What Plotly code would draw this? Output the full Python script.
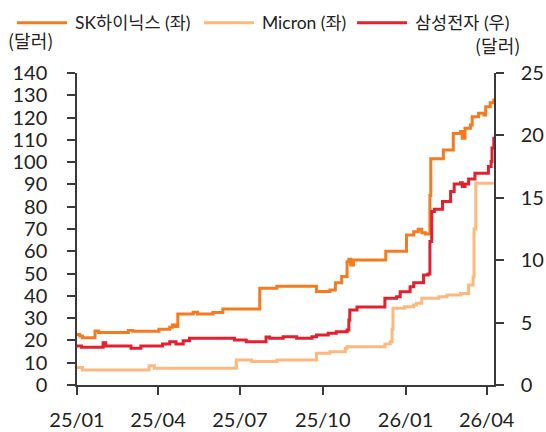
import plotly.graph_objects as go

# ---- data ----
sk_dates = ["2025-01-01","2025-01-04","2025-01-07","2025-01-21","2025-01-25","2025-02-27","2025-03-04",
            "2025-04-02","2025-04-14","2025-04-17","2025-04-20","2025-04-23","2025-05-10","2025-05-15",
            "2025-06-01","2025-06-12","2025-07-23","2025-08-11","2025-09-24","2025-10-09","2025-10-15",
            "2025-10-22","2025-10-28","2025-10-30","2025-11-01","2025-11-04","2025-12-10","2026-01-02",
            "2026-01-10","2026-01-15","2026-01-19","2026-01-23","2026-01-28","2026-01-29","2026-02-12",
            "2026-02-23","2026-03-03","2026-03-05","2026-03-08","2026-03-14","2026-03-16","2026-03-23",
            "2026-03-29","2026-03-31","2026-04-05","2026-04-09"]
sk_vals = [22.7,22.0,21.2,24.2,23.6,24.4,24.1,25.0,25.9,26.9,26.2,31.9,32.6,31.9,32.5,34.1,43.4,44.3,
           41.9,42.6,45.9,48.7,55.3,56.4,53.8,56.1,60.0,67.3,68.8,69.9,68.3,67.8,85.0,101.5,105.4,
           112.9,113.7,110.7,115.2,116.7,120.4,121.9,121.2,124.9,126.7,128.6]

mu_dates = ["2025-01-01","2025-01-07","2025-03-22","2025-03-28","2025-06-27","2025-07-14","2025-08-11",
            "2025-09-24","2025-10-09","2025-10-26","2025-10-28","2025-12-09","2025-12-15","2025-12-17",
            "2025-12-18","2025-12-31","2026-01-10","2026-01-13","2026-01-19","2026-02-07","2026-02-16",
            "2026-03-03","2026-03-12","2026-03-17","2026-03-18","2026-03-20","2026-04-09"]
mu_vals = [7.9,6.7,8.6,7.5,11.2,10.5,11.2,14.2,14.9,16.5,17.2,18.4,19.4,25.0,34.4,35.1,35.9,36.7,
           38.9,39.6,40.4,41.1,44.9,48.6,70.0,90.5,90.5]

sam_dates = ["2025-01-01","2025-01-06","2025-01-30","2025-02-02","2025-03-02","2025-03-13","2025-04-06",
             "2025-04-14","2025-04-21","2025-04-29","2025-05-06","2025-06-25","2025-07-08","2025-07-30",
             "2025-08-03","2025-08-18","2025-09-02","2025-09-19","2025-09-24","2025-10-07","2025-10-16",
             "2025-10-28","2025-10-30","2025-10-31","2025-11-08","2025-12-09","2025-12-22","2025-12-26",
             "2026-01-06","2026-01-10","2026-01-21","2026-01-26","2026-01-28","2026-01-30","2026-02-02",
             "2026-02-11","2026-02-20","2026-02-24","2026-03-03","2026-03-05","2026-03-08","2026-03-12",
             "2026-03-19","2026-04-03","2026-04-06","2026-04-07","2026-04-09"]
sam_vals = [3.12,3.02,3.39,3.12,2.94,3.12,3.28,3.47,3.28,3.55,3.74,3.6,3.47,3.85,3.74,3.87,3.74,3.87,
            4.0,4.14,4.27,4.4,5.2,6.0,6.25,6.95,7.08,7.48,7.88,8.2,8.81,8.9,11.5,13.9,14.08,14.7,15.5,
            16.1,16.2,15.9,16.1,16.5,16.96,17.5,17.9,19.0,19.9]

x_tickvals = ["2025-01-01","2025-04-01","2025-07-01","2025-10-01","2026-01-01","2026-04-01"]
x_ticktext = ["25/01","25/04","25/07","25/10","26/01","26/04"]

series_names = ["SK하이닉스 (좌)", "Micron (좌)", "삼성전자 (우)"]
colors = ["#F47B20", "#FDB97D", "#E3202E"]

FONT = "Lato, Noto Sans CJK KR"
KFONT = "Noto Sans CJK KR"
AX = "#3a3a3a"
TXT = "#222222"

fig = go.Figure()
fig.add_trace(go.Scatter(x=mu_dates, y=mu_vals, name=series_names[1], mode="lines",
                         line=dict(color=colors[1], width=3, shape="hv"), yaxis="y"))
fig.add_trace(go.Scatter(x=sk_dates, y=sk_vals, name=series_names[0], mode="lines",
                         line=dict(color=colors[0], width=3, shape="hv"), yaxis="y"))
fig.add_trace(go.Scatter(x=sam_dates, y=sam_vals, name=series_names[2], mode="lines",
                         line=dict(color=colors[2], width=3, shape="hv"), yaxis="y2"))

axis_common = dict(
    showgrid=False, zeroline=False, automargin=False,
    showline=True, linecolor=AX, linewidth=1.5,
    ticks="outside", ticklen=8, tickwidth=1.5, tickcolor=AX,
    tickfont=dict(family=FONT, size=20, color=TXT),
)

fig.update_layout(
    width=546, height=432,
    margin=dict(l=77, r=52, t=73, b=47),
    paper_bgcolor="white", plot_bgcolor="white",
    showlegend=False,
    font=dict(family=FONT, size=20, color=TXT),
    xaxis=dict(
        type="date", range=["2025-01-01", "2026-04-09 05:00"],
        tickvals=x_tickvals, ticktext=x_ticktext,
        ticklabelstandoff=8, **axis_common,
    ),
    yaxis=dict(
        range=[0, 140], dtick=10, tick0=0,
        ticklabelstandoff=16, **axis_common,
    ),
    yaxis2=dict(
        range=[0, 25], dtick=5, tick0=0, overlaying="y", side="right",
        ticklabelstandoff=13, **axis_common,
    ),
)

# custom legend (lines + text)
leg_y = 1.161
leg_items = [(-0.1439, -0.0240, -0.0096), (0.3046, 0.4245, 0.4388), (0.6715, 0.7914, 0.8058)]
for i, (x0, x1, xt) in enumerate(leg_items):
    fig.add_shape(type="line", xref="paper", yref="paper", x0=x0, x1=x1, y0=leg_y, y1=leg_y,
                  line=dict(color=colors[i], width=3))
    fig.add_annotation(xref="paper", yref="paper", x=xt, y=leg_y, text=series_names[i],
                       showarrow=False, xanchor="left", yanchor="middle",
                       font=dict(family=FONT, size=17.5, color=TXT))

fig.add_annotation(xref="paper", yref="paper", x=-0.1127, y=1.1058, text="(달러)", showarrow=False,
                   xanchor="center", yanchor="middle", font=dict(family=KFONT, size=18, color=TXT))
fig.add_annotation(xref="paper", yref="paper", x=1.0084, y=1.0897, text="(달러)", showarrow=False,
                   xanchor="center", yanchor="middle", font=dict(family=KFONT, size=18, color=TXT))

fig.write_html("out.html", config={"displayModeBar": False},
               post_script="document.body.style.margin='0';document.body.style.padding='0';")
